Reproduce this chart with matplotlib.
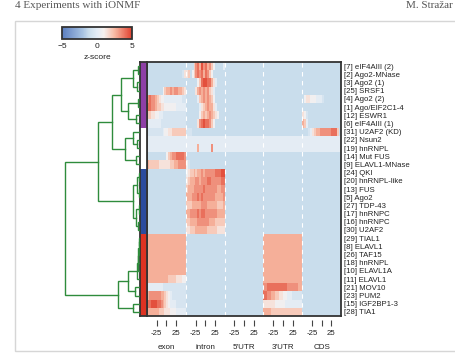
import matplotlib
matplotlib.use('Agg')

import matplotlib.pyplot as plt
import numpy as np
from matplotlib.colors import LinearSegmentedColormap, ListedColormap
from matplotlib.patches import Rectangle

plt.rcParams['font.family'] = ['Liberation Sans', 'DejaVu Sans']

W, H = 455, 353

# row labels, top to bottom
row_labels = ["[7] eIF4AIII (2)", "[2] Ago2-MNase", "[3] Ago2 (1)", "[25] SRSF1",
              "[4] Ago2 (2)", "[1] Ago/EIF2C1-4", "[12] ESWR1", "[6] eIF4AIII (1)",
              "[31] U2AF2 (KD)", "[22] Nsun2", "[19] hnRNPL", "[14] Mut FUS",
              "[9] ELAVL1-MNase", "[24] QKI", "[20] hnRNPL-like", "[13] FUS",
              "[5] Ago2", "[27] TDP-43", "[17] hnRNPC", "[16] hnRNPC",
              "[30] U2AF2", "[29] TIAL1", "[8] ELAVL1", "[26] TAF15",
              "[18] hnRNPL", "[10] ELAVL1A", "[11] ELAVL1", "[21] MOV10",
              "[23] PUM2", "[15] IGF2BP1-3", "[28] TIA1"]

# cluster of each row (0 purple, 1 white, 2 blue, 3 red)
row_cluster = [0]*8 + [1]*5 + [2]*8 + [3]*10
cluster_colors = ['#8e3fa6', '#ffffff', '#2b4b9e', '#dd3222']

regions = ["exon", "intron", "5'UTR", "3'UTR", "CDS"]

# z-score levels per row, 20 bins per region (-50..50 around the site)
# digit d -> z = -1.2 + 0.65 * d
BG = "00000000000000000000"
LT = "22222222222222222222"
SA = "66666666666666666666"

exon = [BG, "00000000000000000014", BG, "00000000356676776654",
        "78776543322222222211", "88776554433333322222", "55443322111111111111",
        "22222221111111111111", "11111111233445555555", LT, LT,
        "00000000003567788887", "65555544444455667777",
        BG, BG, BG, BG, BG, BG, BG, BG,
        SA, SA, SA, SA, SA, "66666666666555544433", "22222222111111111111",
        "67777776654321111111", "88999887654322211111", "66666655544433322222"]

intron = ["00005786978675300002", "45035787868753000000", "00000035899886420000",
          "00000467676754200000", "00000025676765300000", "00000002456766420000",
          "00000003565676543000", "00000047898875300000", "11100000000000000000",
          LT, "22222262222227222222", BG, "31000000000000000000",
          "34556566767777788899", "45666776777887777788", "56667777787777776677",
          "66677787877777766667", "55566666777666665556", "66777787887777776666",
          "55666677777766655555", "44555666666555554444",
          BG, BG, BG, BG, BG, BG, BG, BG, BG, BG]

utr5 = [BG]*9 + [LT, LT] + [BG]*20

utr3 = [BG]*9 + [LT, LT] + [BG]*10 + [SA, SA, SA, SA, SA, SA,
        "77888888888877777766", "88776655443322211111",
        "44444433333222222222", "66665555555555555555"]

cds = [BG, BG, BG, BG, "03443332221000000000", BG, "43100000000000000000",
       "65200000000000000000", "00012456677777788850", LT, LT] + [BG]*20

# dendrogram merges (left, right, height); ids >= 31 are earlier merges
linkage = [(0, 1, 0.3), (2, 3, 0.4), (31, 32, 0.9), (4, 5, 0.3), (6, 7, 0.5),
           (34, 35, 1.6), (33, 36, 2.5), (9, 10, 0.4), (8, 38, 0.9), (11, 12, 0.5),
           (39, 40, 2.0), (37, 41, 3.7), (13, 14, 0.2), (15, 16, 0.15), (43, 44, 0.4),
           (17, 18, 0.1), (19, 20, 0.3), (46, 47, 0.5), (45, 48, 0.9), (42, 49, 5.6),
           (21, 22, 0.15), (51, 23, 0.2), (52, 24, 0.25), (53, 25, 0.3), (54, 26, 0.35),
           (27, 28, 0.7), (55, 56, 1.6), (29, 30, 1.0), (57, 58, 2.9), (50, 59, 10.0)]


def box(x0, y0, x1, y1):
    return [x0 / W, 1 - y1 / H, (x1 - x0) / W, (y1 - y0) / H]


n = len(row_labels)
mat = np.array([[int(c) for c in (exon[i] + intron[i] + utr5[i] + utr3[i] + cds[i])]
                for i in range(n)], dtype=float)
z = -1.2 + 0.65 * mat

cmap = LinearSegmentedColormap.from_list('zs', [
    (0.0, '#5b7ec0'), (0.3, '#a9c4e3'), (0.38, '#c9ddec'), (0.5, '#e3ecf5'),
    (0.6, '#f6f1ef'), (0.75, '#f8baa4'), (1.0, '#e0412f')])

fig = plt.figure(figsize=(W / 100, H / 100), dpi=100)

# page frame and header
fig.add_artist(Rectangle((15 / W, 1 - 351 / H), (470 - 15) / W, (351 - 21) / H,
                         transform=fig.transFigure, fill=False, ec='#d6d6d6', lw=1))
fig.text(15 / W, 1 - 6 / H, "4 Experiments with iONMF", family='Liberation Serif',
         size=8, color='#555555', va='center')
fig.text(453 / W, 1 - 6 / H, "M. Stražar", family='Liberation Serif',
         size=8, color='#555555', va='center', ha='right')

# heatmap
ax = fig.add_axes(box(147, 62, 341, 316))
im = ax.imshow(z, cmap=cmap, vmin=-5, vmax=5, aspect='auto', interpolation='nearest',
               extent=(0, 100 * len(regions), n, 0))
for k in range(1, len(regions)):
    ax.axvline(100 * k, color='white', lw=0.8, ls=(0, (4, 4)))
for s in ax.spines.values():
    s.set_linewidth(1.3)
    s.set_color('#333333')
ax.set_xticks([])
ax.yaxis.tick_right()
ax.set_yticks(np.arange(n) + 0.5)
ax.set_yticklabels(row_labels, fontsize=5.6, color='#222222')
ax.tick_params(axis='y', length=0, pad=2)

sec = ax.secondary_xaxis(-0.016)
ticks, labels = [], []
for k in range(len(regions)):
    ticks += [100 * k + 25, 100 * k + 50, 100 * k + 75]
    labels += ['-25', '', '25']
sec.set_xticks(ticks)
sec.set_xticklabels(labels, fontsize=5.6, color='#222222')
sec.tick_params(axis='x', length=4, width=0.8, color='#444444', pad=3)
sec.spines['bottom'].set_visible(False)
for k, r in enumerate(regions):
    ax.text(100 * k + 50, -0.125, r, transform=ax.get_xaxis_transform(),
            ha='center', va='center', fontsize=5.8, color='#222222')

# cluster colour strip
sax = fig.add_axes(box(140, 62, 147, 316))
sax.imshow(np.array(row_cluster)[:, None], cmap=ListedColormap(cluster_colors),
           vmin=-0.5, vmax=3.5, aspect='auto', interpolation='nearest',
           extent=(0, 1, n, 0))
sax.set_xticks([])
sax.set_yticks([])
for s in sax.spines.values():
    s.set_linewidth(1.3)
    s.set_color('#333333')

# dendrogram
dax = fig.add_axes(box(60, 62, 140, 316))
pos = {i: i + 0.5 for i in range(n)}
hgt = {i: 0.0 for i in range(n)}
for k, (a, b, h) in enumerate(linkage):
    dax.plot([hgt[a], h, h, hgt[b]], [pos[a], pos[a], pos[b], pos[b]],
             color='#2f8c3c', lw=1.0, solid_joinstyle='miter')
    pos[n + k] = (pos[a] + pos[b]) / 2
    hgt[n + k] = h
dax.set_xlim(80 / 7.5, 0)
dax.set_ylim(n, 0)
dax.axis('off')

# colour bar
cax = fig.add_axes(box(62, 27, 132, 39))
cb = fig.colorbar(im, cax=cax, orientation='horizontal', ticks=[-5, 0, 5])
cb.ax.tick_params(length=0, labelsize=6, pad=3, labelcolor='#222222')
cb.outline.set_linewidth(1.3)
cb.outline.set_edgecolor('#333333')
cb.set_label('z-score', fontsize=6, color='#222222', labelpad=3)

fig.savefig('out.png', dpi=100)
